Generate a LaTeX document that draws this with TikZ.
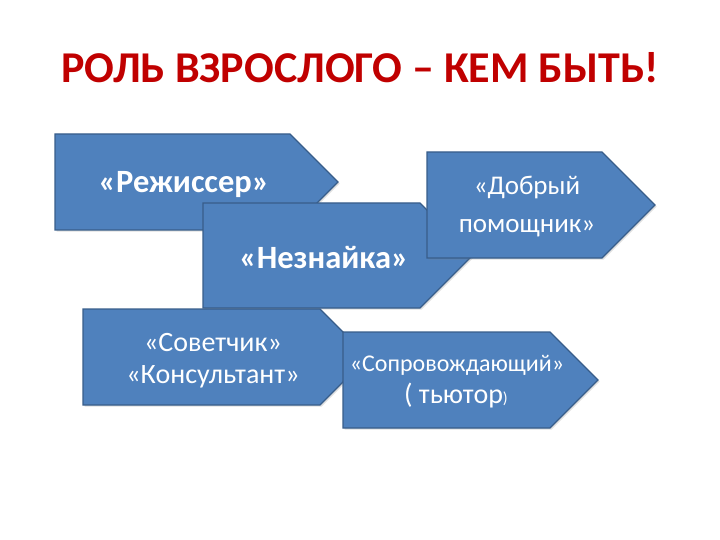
\documentclass[tikz,border=0pt]{standalone}
\usepackage{fontspec}
\setmainfont{Carlito}
\usetikzlibrary{shadows}
\definecolor{boxfill}{HTML}{4F81BD}
\definecolor{boxline}{HTML}{385D8A}
\definecolor{titlered}{HTML}{C00000}
\newcommand\pentpath[4]{(#1,#2) -- (#3,#2) -- ({#3+(#4-#2)/2},{(#2+#4)/2}) -- (#3,#4) -- (#1,#4) -- cycle}
\begin{document}
\begin{tikzpicture}[x=1pt,y=-1pt,
  arrowbox/.style={fill=boxfill, draw=boxline, line width=1.3pt, line join=miter,
    drop shadow={shadow xshift=1.5pt, shadow yshift=-1.5pt, opacity=0.25}},
  lbl/.style={text=white, align=center, inner sep=0pt},
  bigbold/.style={font=\fontsize{32.5}{38}\selectfont\bfseries}]
\useasboundingbox (0,0) rectangle (720,540);
\node[text=titlered, font=\fontsize{44}{53}\selectfont\bfseries] (title) at (360,68) {РОЛЬ ВЗРОСЛОГО – КЕМ БЫТЬ!};
% shapes
\path[arrowbox] \pentpath{55}{134}{290}{230};
\path[arrowbox] \pentpath{203}{203}{420}{308};
\path[arrowbox] \pentpath{427}{152}{602}{258};
\path[arrowbox] \pentpath{83}{309}{320}{405};
\path[arrowbox] \pentpath{343}{332}{550}{428};
% labels
\node[lbl, bigbold] (rezh) at (184,185) {«Режиссер»};
\node[lbl, bigbold] (nezn) at (324,258) {«Незнайка»};
\node[lbl, font=\fontsize{27}{38}\selectfont] (dobr) at (527,207) {«Добрый\\помощник»};
\node[lbl, font=\fontsize{28}{32}\selectfont] (sovet) at (213,361) {«Советчик»\\«Консультант»};
\node[lbl, font=\fontsize{24}{32}\selectfont] (sopr) at (457,365) {«Сопровождающий»};
\node[lbl, font=\fontsize{28}{32}\selectfont] (tutor) at (456,396) {( тьютор{\fontsize{16}{18}\selectfont)}};
\end{tikzpicture}
\end{document}
